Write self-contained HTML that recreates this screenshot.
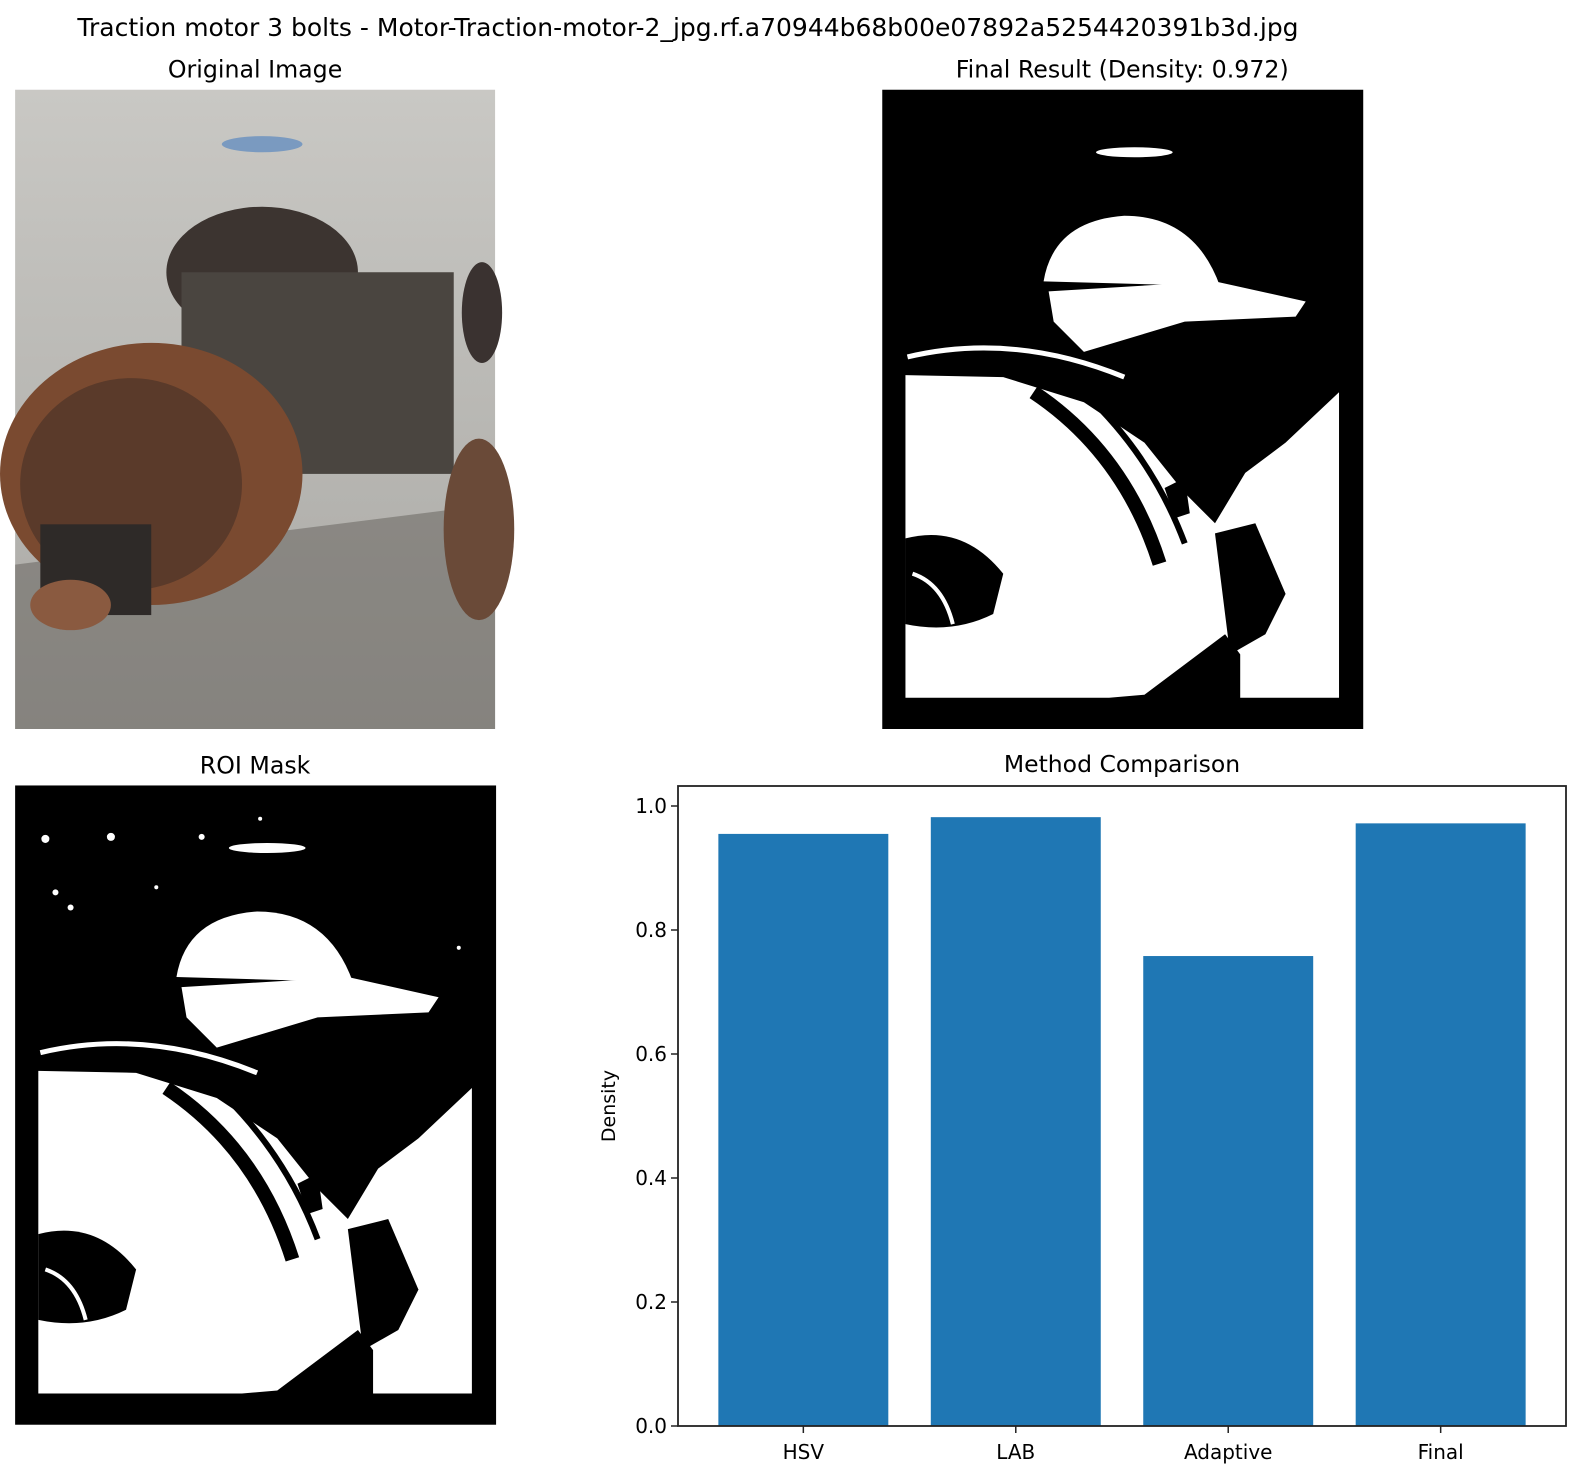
<!DOCTYPE html>
<html><head><meta charset="utf-8"><style>
body{margin:0;background:#fff;font-family:"Liberation Sans","DejaVu Sans",sans-serif}
svg text{font-family:"DejaVu Sans","Liberation Sans",sans-serif;fill:#000}
</style></head><body>
<svg id="fig" width="1581" height="1476" viewBox="0 0 1581 1476" xmlns="http://www.w3.org/2000/svg">
<rect width="1581" height="1476" fill="#fff"/>
<text x="688" y="36" font-size="25" text-anchor="middle">Traction motor 3 bolts - Motor-Traction-motor-2_jpg.rf.a70944b68b00e07892a5254420391b3d.jpg</text>
<g transform="scale(1.0083)">
 <text x="253" y="77" font-size="23.5" text-anchor="middle">Original Image</text>
 <text x="1113" y="77" font-size="23.5" text-anchor="middle">Final Result (Density: 0.972)</text>
 <text x="253" y="767" font-size="23.5" text-anchor="middle">ROI Mask</text>
 <g>
  <defs><linearGradient id="gr" x1="0" y1="0" x2="0" y2="1"><stop offset="0" stop-color="#c9c8c4"/><stop offset="1" stop-color="#a9a8a4"/></linearGradient></defs>
  <rect x="15" y="89" width="476" height="634" fill="url(#gr)"/>
  <ellipse cx="260" cy="143" rx="40" ry="8" fill="#7a9ac0"/>
  <path d="M15 560 L491 500 L491 723 L15 723Z" fill="#6e6b66" opacity="0.6"/>
  <ellipse cx="260" cy="270" rx="95" ry="65" fill="#3c3430"/>
  <rect x="180" y="270" width="270" height="200" fill="#4a4540"/>
  <ellipse cx="150" cy="470" rx="150" ry="130" fill="#7a4a30"/>
  <ellipse cx="130" cy="480" rx="110" ry="105" fill="#5a3a2a"/>
  <rect x="40" y="520" width="110" height="90" fill="#2e2a28"/>
  <ellipse cx="70" cy="600" rx="40" ry="25" fill="#8a5a40"/>
  <ellipse cx="478" cy="310" rx="20" ry="50" fill="#3a3230"/>
  <ellipse cx="475" cy="525" rx="35" ry="90" fill="#6a4a38"/>
 </g>
 <defs>
  <g id="mask">
   <rect x="0" y="0" width="477" height="634" fill="#000"/>
   <ellipse cx="250" cy="62" rx="38" ry="5" fill="#fff"/>
   <path d="M160 190 Q170 130 240 125 Q310 125 335 195 Z" fill="#fff"/>
   <path d="M165 200 L330 190 L420 210 L410 225 L300 230 L200 260 L170 230Z" fill="#fff"/>
   <path d="M25 265 Q130 240 240 285" stroke="#fff" stroke-width="5" fill="none"/>
   <path d="M23 283 L120 285 L200 310 L260 350 L300 400 L330 430 L360 380 L400 350 L453 300 L453 603 L355 603 L355 560 L340 540 L300 570 L260 600 L225 603 L23 603Z" fill="#fff"/>
   <path d="M150 300 Q240 360 275 470" stroke="#000" stroke-width="14" fill="none"/>
   <path d="M210 310 Q270 370 300 450" stroke="#000" stroke-width="6" fill="none"/>
   <path d="M330 440 L370 430 L400 500 L380 540 L345 560 Z" fill="#000"/>
   <path d="M23 445 Q80 430 120 480 L110 520 Q70 540 23 530Z" fill="#000"/>
   <path d="M30 480 Q60 490 70 530" stroke="#fff" stroke-width="4" fill="none"/>
   <path d="M280 395 L300 385 L305 420 L290 425Z" fill="#000"/>
  </g>
 </defs>
 <g><use href="#mask" x="875" y="89"/></g>
 <g>
  <use href="#mask" x="15" y="779"/>
  <g fill="#fff"><circle cx="45" cy="832" r="4"/><circle cx="110" cy="830" r="4"/><circle cx="200" cy="830" r="3"/><circle cx="55" cy="885" r="3"/><circle cx="155" cy="880" r="2"/><circle cx="258" cy="812" r="2"/><circle cx="455" cy="940" r="2"/><circle cx="70" cy="900" r="3"/></g>
 </g>
</g>
<g id="chart"></g>
</svg>
<script>
const categories=["HSV","LAB","Adaptive","Final"];
const densities=[0.955,0.982,0.758,0.972];
const yTicks=[0.0,0.2,0.4,0.6,0.8,1.0];
const tickLabels=["0.0","0.2","0.4","0.6","0.8","1.0"];
const NS="http://www.w3.org/2000/svg";
const g=document.getElementById('chart');
const L=678,R=1566,T=786,B=1426;
const yMax=(B-T)/620;
const xMin=-0.59,xMax=3.59;
function xs(v){return L+(v-xMin)/(xMax-xMin)*(R-L);}
function ys(v){return B-v/yMax*(B-T);}
function mk(t,a){const e=document.createElementNS(NS,t);for(const k in a)e.setAttribute(k,a[k]);g.appendChild(e);return e;}
const title=mk('text',{x:(L+R)/2,y:T-14,'font-size':23.5,'text-anchor':'middle'});title.textContent='Method Comparison';


categories.forEach((c,i)=>{
 const b=mk('rect',{x:xs(i-0.4),y:ys(densities[i]),width:xs(i+0.4)-xs(i-0.4),height:ys(0)-ys(densities[i]),fill:'#1f77b4'});
 
 
 const tk=mk('line',{x1:xs(i),x2:xs(i),y1:B,y2:B+7,stroke:'#222','stroke-width':1.5});
 
 
 const t=mk('text',{x:xs(i),y:B+33,'font-size':20,'text-anchor':'middle'});t.textContent=c;
 
 
});
yTicks.forEach((v,i)=>{
 const tk=mk('line',{x1:L-7,x2:L,y1:ys(v),y2:ys(v),stroke:'#222','stroke-width':1.5});
 
 
 const t=mk('text',{x:L-11,y:ys(v)+7,'font-size':20,'text-anchor':'end'});t.textContent=tickLabels[i];
 
 
});
const fr=mk('rect',{x:L,y:T,width:R-L,height:B-T,fill:'none',stroke:'#222','stroke-width':1.8});


const yl=mk('text',{x:0,y:0,'font-size':19,'text-anchor':'middle',transform:`translate(${L-63},${(T+B)/2}) rotate(-90)`});yl.textContent='Density';


</script>
</body></html>
